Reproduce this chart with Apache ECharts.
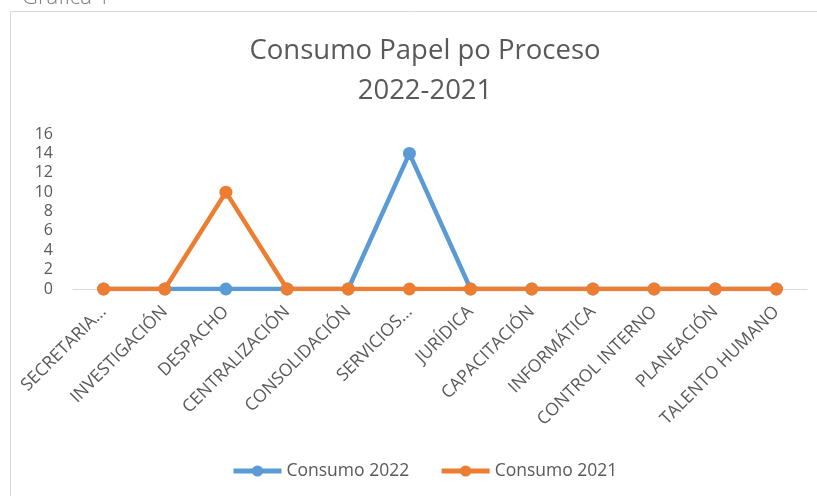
<!DOCTYPE html>
<html><head><meta charset="utf-8">
<script src="https://cdn.jsdelivr.net/npm/echarts@6/dist/echarts.min.js"></script>
<style>html,body{margin:0;padding:0;background:#fff}#c{width:817px;height:496px}</style>
</head><body><div id="c"></div>
<script>
var categories = ['SECRETARIA...','INVESTIGACIÓN','DESPACHO','CENTRALIZACIÓN','CONSOLIDACIÓN','SERVICIOS...','JURÍDICA','CAPACITACIÓN','INFORMÁTICA','CONTROL INTERNO','PLANEACIÓN','TALENTO HUMANO'];
var consumo2022 = [0,0,0,0,0,14,0,0,0,0,0,0];
var consumo2021 = [0,0,10,0,0,0,0,0,0,0,0,0];
var yTicks = [0,2,4,6,8,10,12,14,16];

var chart = echarts.init(document.getElementById('c'));
var font = "'Open Sans', sans-serif";
chart.setOption({
  animation:false,
  backgroundColor:'#fff',
  graphic:[
    {type:'rect',shape:{x:10.5,y:11.5,width:820,height:500},style:{fill:'none',stroke:'#d9d9d9',lineWidth:1}},
    {type:'text',left:22,top:-13,style:{text:'Gráfica 1',font:'300 22px '+font,fill:'#7f7f7f'}}
  ],
  title:{text:'Consumo Papel po Proceso\n2022-2021',left:420,textAlign:'center',top:26,
    textStyle:{fontFamily:font,fontWeight:'normal',fontSize:27.5,color:'#595959',lineHeight:40}},
  legend:{bottom:11,left:226,itemWidth:48,itemHeight:14,itemGap:30,
    textStyle:{fontFamily:font,fontSize:17.5,color:'#595959'},
    lineStyle:{width:5},
    data:['Consumo 2022','Consumo 2021']},
  grid:{left:73,right:10,top:134,bottom:207,containLabel:false},
  xAxis:{type:'category',data:categories,boundaryGap:true,
    axisLine:{lineStyle:{color:'#d9d9d9',width:1}},axisTick:{show:false},
    axisLabel:{rotate:45,interval:0,fontFamily:font,fontSize:17.5,color:'#595959',margin:20}},
  yAxis:{type:'value',min:0,max:16,interval:2,
    axisLine:{show:false},axisTick:{show:false},splitLine:{show:false},
    axisLabel:{fontFamily:font,fontSize:16,color:'#595959',margin:20,lineHeight:18,
      formatter:function(v){return yTicks.indexOf(v)>=0?String(v):'';}}},
  series:[
    {name:'Consumo 2022',type:'line',data:consumo2022,symbol:'circle',symbolSize:13,
      lineStyle:{color:'#5b9bd5',width:4.5},itemStyle:{color:'#5b9bd5'},z:2},
    {name:'Consumo 2021',type:'line',data:consumo2021,symbol:'circle',symbolSize:13,
      lineStyle:{color:'#ed7d31',width:4.5},itemStyle:{color:'#ed7d31'},z:3}
  ]
});
</script></body></html>
